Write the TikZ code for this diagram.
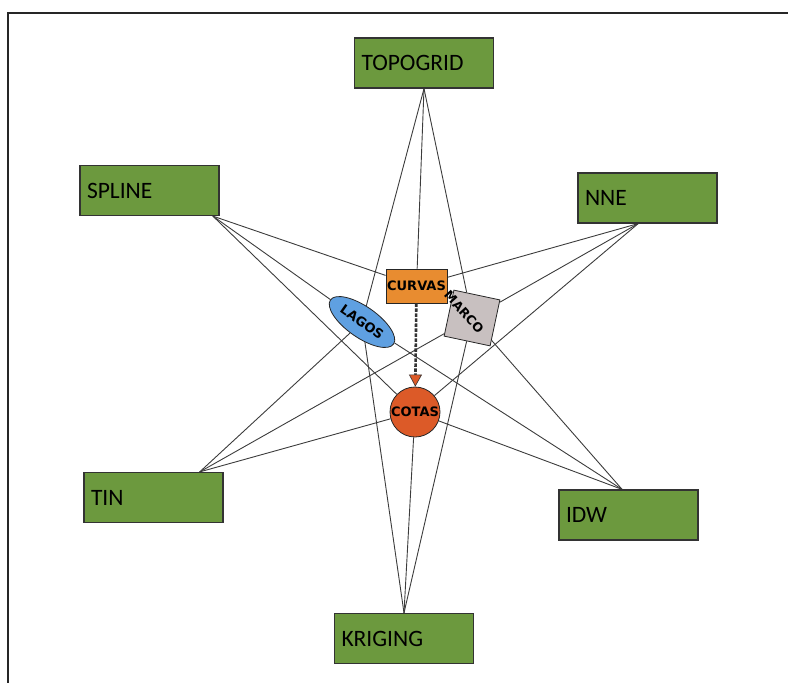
\documentclass[tikz,border=0pt]{standalone}
\usepackage{fontspec}
\setmainfont{Carlito}
\newfontfamily\negrita{DejaVu Sans}
\usetikzlibrary{shapes.geometric,arrows.meta}
\pgfdeclarelayer{fondo}
\pgfsetlayers{fondo,main}

\definecolor{verde}{RGB}{108,153,62}
\definecolor{naranja}{RGB}{232,140,48}
\definecolor{azul}{RGB}{95,160,225}
\definecolor{gris}{RGB}{200,192,192}
\definecolor{rojizo}{RGB}{220,90,40}
\definecolor{linea}{RGB}{60,60,60}

\begin{document}
\begin{tikzpicture}[x=1pt,y=-1pt]

    \tikzset{
      metodo/.style={
        draw=black!80,
        line width=1.2pt,
        fill=verde,
        text width=125pt,
        align=left,
        inner xsep=7pt,
        inner ysep=0pt,
        minimum height=50pt,
        font=\fontsize{23.5}{26}\selectfont,
      },
      dato/.style={
        draw=black!85,
        line width=0.8pt,
        inner sep=1pt,
        font=\negrita\bfseries\fontsize{13}{15}\selectfont,
      },
      enlace/.style={
        color=linea,
        line width=0.9pt,
      },
      flecha/.style={
        color=black!80,
        line width=2.6pt,
        dash pattern=on 3.5pt off 1.5pt,
        -{Triangle[width=13pt,length=12pt,fill=rojizo,line width=0.6pt]},
      },
    }
    \useasboundingbox (0,0) rectangle (788,683);
    \draw[line width=2.5pt,black!85] (788,13)--(8,13)--(8,683);

	% metodos de interpolacion
	\node[metodo] (topogrid) at (424,63) {TOPOGRID};
	\node[metodo] (spline) at (149.5,190.5) {SPLINE};
	\node[metodo] (nne) at (647.5,198) {NNE};
	\node[metodo] (tin) at (153.5,497.5) {TIN};
	\node[metodo] (idw) at (628.5,515) {IDW};
	\node[metodo] (kriging) at (404,638.5) {KRIGING};

	% datos de entrada
	\node[dato,rectangle,fill=naranja,minimum width=61pt,minimum height=34pt,inner sep=0pt] (curvas) at (416.5,286) {\makebox[0pt]{CURVAS}};
	\node[dato,ellipse,fill=azul,minimum width=77pt,minimum height=31pt,inner sep=0pt,rotate=-35] (lagos) at (362,322) {LAGOS};
	\node[dato,rectangle,fill=gris,minimum size=47pt,rotate=-12] (marco) at (472,318) {};
	\node[font=\negrita\bfseries\fontsize{12.5}{15}\selectfont,rotate=-48] (marcotexto) at (464,312) {MARCO};
	\node[dato,circle,fill=rojizo,minimum size=50pt,inner sep=0pt] (cotas) at (415,412) {\makebox[0pt]{COTAS}};

	\draw[flecha] (curvas) -- (cotas);

	\begin{pgfonlayer}{fondo}
	\draw[enlace] (topogrid.south) -- (lagos);
	\draw[enlace] (topogrid.south) -- (curvas);
	\draw[enlace] (topogrid.south) -- (marco);
	\draw[enlace] (spline.338) -- (curvas);
	\draw[enlace] (spline.338) -- (lagos);
	\draw[enlace] (spline.338) -- (cotas);
	\draw[enlace] (nne.250) -- (curvas);
	\draw[enlace] (nne.250) -- (marco);
	\draw[enlace] (nne.250) -- (cotas);
	\draw[enlace] (tin.29) -- (lagos);
	\draw[enlace] (tin.29) -- (marco);
	\draw[enlace] (tin.29) -- (cotas);
	\draw[enlace] (idw.104) -- (lagos);
	\draw[enlace] (idw.104) -- (marco);
	\draw[enlace] (idw.104) -- (cotas);
	\draw[enlace] (kriging.north) -- (lagos);
	\draw[enlace] (kriging.north) -- (marco);
	\draw[enlace] (kriging.north) -- (cotas);
	\end{pgfonlayer}

\end{tikzpicture}
\end{document}
